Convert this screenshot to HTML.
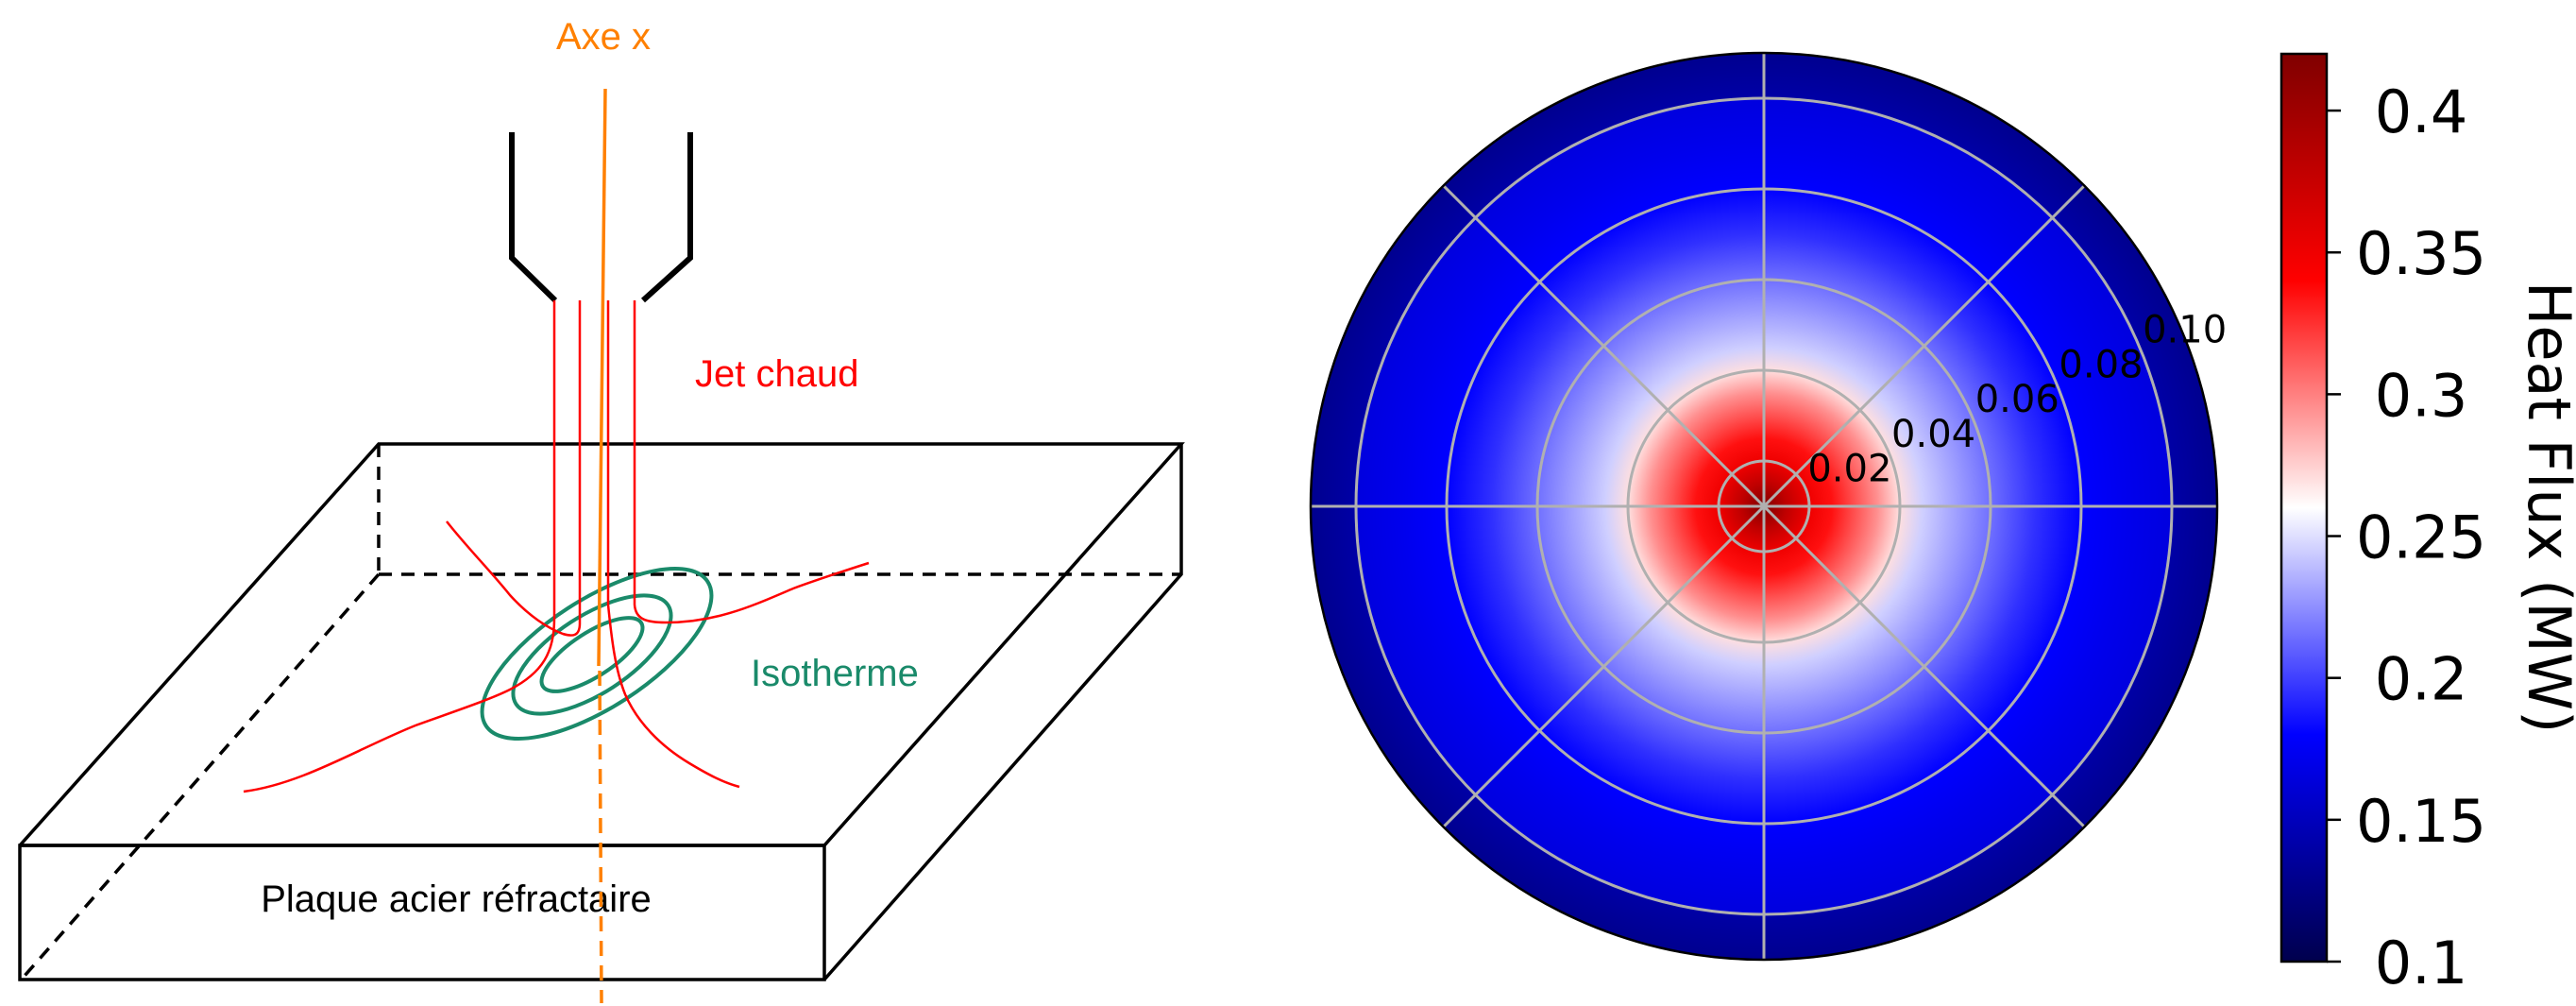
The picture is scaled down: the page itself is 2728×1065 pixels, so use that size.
<!DOCTYPE html>
<html><head><meta charset="utf-8">
<style>
html,body{margin:0;padding:0;background:#fff;}
svg{display:block;}
text{font-family:"DejaVu Sans","Liberation Sans",sans-serif;}
.lab{font-family:"Liberation Sans",sans-serif;}
</style></head>
<body>
<svg id="root" width="2728" height="1065" viewBox="0 0 2728 1065" xmlns="http://www.w3.org/2000/svg">
<defs>
  <radialGradient id="heatGrad" cx="1868" cy="536" r="480" gradientUnits="userSpaceOnUse"></radialGradient>
  <linearGradient id="cbarGrad" x1="0" y1="1" x2="0" y2="0"></linearGradient>
</defs>

<g>
  <g fill="none" stroke="#000" stroke-width="3.5">
    <polyline points="21,895 401,470 1251,470 873,895 21,895"/>
    <rect x="21" y="895" width="852" height="142"/>
    <polyline points="1251,470 1251,608 873,1037"/>
    <g stroke-dasharray="14,10">
      <line x1="401" y1="470" x2="401" y2="608"/>
      <line x1="401" y1="608" x2="1251" y2="608"/>
      <line x1="401" y1="608" x2="26" y2="1033"/>
    </g>
  </g>
  <text class="lab" x="483" y="965" font-size="40" text-anchor="middle" fill="#000">Plaque acier réfractaire</text>

  <g fill="none" stroke="#000" stroke-width="6">
    <polyline points="542,140 542,273 588,318"/>
    <polyline points="731,140 731,273 681,318"/>
  </g>

  <g fill="none" stroke="#1a8a6a" stroke-width="4">
    <ellipse cx="632" cy="692" rx="140" ry="57" transform="rotate(-33 632 692)"/>
    <ellipse cx="627" cy="693" rx="96" ry="41" transform="rotate(-33 627 693)"/>
    <ellipse cx="627" cy="693" rx="62" ry="23" transform="rotate(-33 627 693)"/>
  </g>
  <text class="lab" x="795" y="726" font-size="40" fill="#1a8a6a">Isotherme</text>

  <g fill="none" stroke="#ff0000" stroke-width="2.5">
    <path d="M587,318 L587,655 C587,690 575,712 540,730 C520,740 490,750 440,768 C380,792 320,830 258,838"/>
    <path d="M614,318 L614,660 C614,674 606,674 596,671 C580,665 560,652 540,630 C520,605 495,580 473,552"/>
    <path d="M644,318 L644,640 C648,680 652,710 662,735 C675,765 700,790 730,808 C750,820 765,828 783,833"/>
    <path d="M672,318 L672,640 C673,655 683,659 705,659 C760,659 800,640 840,623 C870,612 895,604 920,596"/>
  </g>
  <text class="lab" x="736" y="409" font-size="40" fill="#ff0000">Jet chaud</text>

  <g stroke="#ff8000" stroke-width="3.5" fill="none">
    <line x1="641" y1="94" x2="634" y2="705"/>
    <line x1="635" y1="710" x2="637" y2="1062" stroke-dasharray="16,10"/>
  </g>
  <text class="lab" x="639" y="52" font-size="40" text-anchor="middle" fill="#ff8000">Axe x</text>
</g>

<g id="polar">
  <circle cx="1868" cy="536" r="480" fill="url(#heatGrad)"/>
  <g id="grid"></g>
  <circle cx="1868" cy="536" r="480" fill="none" stroke="#000" stroke-width="2.5"/>
  <g id="rlabels"></g>
</g>

<g id="cbar">
  <rect x="2416" y="57" width="48" height="961" fill="url(#cbarGrad)" stroke="#000" stroke-width="2.5"/>
  <g id="cticks"></g>
  <text font-size="62" text-anchor="middle" transform="translate(2678 537) rotate(90)" fill="#000">Heat Flux (MW)</text>
</g>
</svg>

<script>
// ---- data ----
const radiusSamples = [0.010, 0.015, 0.020, 0.025, 0.030, 0.035, 0.040, 0.045, 0.050, 0.060, 0.070, 0.080, 0.090, 0.100, 0.100, 0.110];
const fluxSamples   = [0.420, 0.380, 0.350, 0.335, 0.315, 0.295, 0.270, 0.245, 0.235, 0.215, 0.195, 0.180, 0.172, 0.165, 0.140, 0.130];
const radialTicks = [0.02, 0.04, 0.06, 0.08, 0.10];
const radialTickLabels = ["0.02", "0.04", "0.06", "0.08", "0.10"];
const spokeAngles = [0, 45, 90, 135, 180, 225, 270, 315];
const cbarTicks = [0.1, 0.15, 0.2, 0.25, 0.3, 0.35, 0.4];
const cbarTickLabels = ["0.1", "0.15", "0.2", "0.25", "0.3", "0.35", "0.4"];

// ---- scales ----
const NS = "http://www.w3.org/2000/svg";
const CX = 1868, CY = 536, RPIX = 480;
const rMin = 0.01, rMax = 0.11;
const vMin = 0.1, vMax = 0.42;
const cbTop = 57, cbBot = 1018;
function rScale(v){ return (v - rMin) / (rMax - rMin) * RPIX; }
function cScale(v){ return cbBot - (v - vMin) / (vMax - vMin) * (cbBot - cbTop); }
function seismic(t){
  t = Math.max(0, Math.min(1, t));
  const pts = [[0,0,0,0.3],[0.25,0,0,1],[0.5,1,1,1],[0.75,1,0,0],[1,0.5,0,0]];
  for (let i=0;i<pts.length-1;i++){
    const a=pts[i], b=pts[i+1];
    if (t<=b[0]){
      const f=(t-a[0])/(b[0]-a[0]);
      const c=[1,2,3].map(k=>Math.round(255*(a[k]+(b[k]-a[k])*f)));
      return "rgb("+c.join(",")+")";
    }
  }
  return "rgb(128,0,0)";
}
function colorOf(v){ return seismic((v - vMin)/(vMax - vMin)); }

const hg = document.getElementById("heatGrad");
for (let i=0;i<radiusSamples.length;i++){
  const s = document.createElementNS(NS,"stop");
  s.setAttribute("offset", (rScale(radiusSamples[i]) / RPIX).toFixed(4));
  s.setAttribute("stop-color", colorOf(fluxSamples[i]));
  hg.appendChild(s);
}

const grid = document.getElementById("grid");
radialTicks.forEach((v,i)=>{
  const c = document.createElementNS(NS,"circle");
  
  
  c.setAttribute("cx", CX); c.setAttribute("cy", CY);
  c.setAttribute("r", rScale(v));
  c.setAttribute("fill","none"); c.setAttribute("stroke","#b0b0b0"); c.setAttribute("stroke-width","3");
  grid.appendChild(c);
});
spokeAngles.forEach(a=>{
  const l = document.createElementNS(NS,"line");
  
  
  const rad = a*Math.PI/180;
  l.setAttribute("x1", CX); l.setAttribute("y1", CY);
  l.setAttribute("x2", CX + RPIX*Math.cos(rad)); l.setAttribute("y2", CY - RPIX*Math.sin(rad));
  l.setAttribute("stroke","#b0b0b0"); l.setAttribute("stroke-width","3");
  grid.appendChild(l);
});

const rl = document.getElementById("rlabels");
const la = 22.5*Math.PI/180;
radialTicks.forEach((v,i)=>{
  const t = document.createElementNS(NS,"text");
  
  
  const r = rScale(v);
  t.setAttribute("x", CX + r*Math.cos(la) + 2);
  t.setAttribute("y", CY - r*Math.sin(la) - 8);
  t.setAttribute("font-size","40");
  t.setAttribute("fill","#000");
  t.textContent = radialTickLabels[i];
  rl.appendChild(t);
});

const cg = document.getElementById("cbarGrad");
for (let k=0;k<=32;k++){
  const v = vMin + (vMax - vMin)*k/32;
  const s = document.createElementNS(NS,"stop");
  s.setAttribute("offset", (k/32).toFixed(4));
  s.setAttribute("stop-color", colorOf(v));
  cg.appendChild(s);
}
const ct = document.getElementById("cticks");
cbarTicks.forEach((v,i)=>{
  const y = cScale(v);
  const l = document.createElementNS(NS,"line");
  
  
  l.setAttribute("x1", 2464); l.setAttribute("x2", 2479);
  l.setAttribute("y1", y); l.setAttribute("y2", y);
  l.setAttribute("stroke","#000"); l.setAttribute("stroke-width","2.5");
  ct.appendChild(l);
  const t = document.createElementNS(NS,"text");
  
  
  t.setAttribute("x", 2564); t.setAttribute("y", y + 23);
  t.setAttribute("font-size","62"); t.setAttribute("text-anchor","middle"); t.setAttribute("fill","#000");
  t.textContent = cbarTickLabels[i];
  ct.appendChild(t);
});
</script>
</body></html>
